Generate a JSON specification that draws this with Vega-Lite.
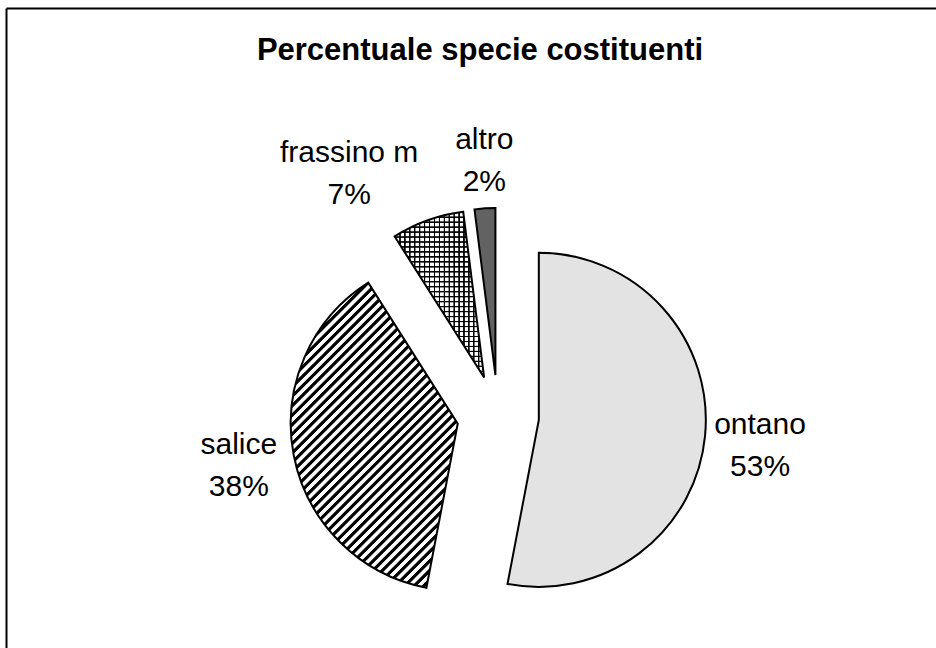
{
  "$schema": "https://vega.github.io/schema/vega-lite/v6.json",
  "width": 930,
  "height": 640,
  "autosize": {"type": "none"},
  "padding": {"left": 6, "top": 8, "right": 0, "bottom": 0},
  "background": "white",
  "config": {"view": {"stroke": null}},
  "title": {
    "text": "Percentuale specie costituenti",
    "font": "Liberation Sans",
    "fontSize": 31,
    "fontWeight": "bold",
    "color": "black",
    "anchor": "middle",
    "orient": "top",
    "offset": -59,
    "dx": 9
  },
  "data": {
    "values": [
      {"specie": "ontano", "pct": 53},
      {"specie": "salice", "pct": 38},
      {"specie": "frassino m", "pct": 7},
      {"specie": "altro", "pct": 2}
    ]
  },
  "transform": [
    {"window": [{"op": "sum", "field": "pct", "as": "t1"}], "frame": [null, 0]},
    {"calculate": "datum.t1 - datum.pct", "as": "t0"},
    {"calculate": "(datum.t0 + datum.t1) / 100 * PI", "as": "mid"},
    {"calculate": "sin(datum.mid)", "as": "s"},
    {"calculate": "cos(datum.mid)", "as": "c"},
    {"calculate": "41 * datum.s", "as": "ex"},
    {"calculate": "41 * datum.c", "as": "ey"},
    {"calculate": "218 * datum.s + (datum.s > 0.2 ? 1 : datum.s < -0.2 ? -1 : 0) * 7.5 * length(datum.specie)", "as": "lx"},
    {"calculate": "218 * datum.c + (abs(datum.s) > 0.5 ? 3 : 49)", "as": "ly"},
    {"calculate": "[datum.specie, datum.pct + '%']", "as": "label"}
  ],
  "layer": [
    {
      "encoding": {
        "x": {
          "field": "ex", "type": "quantitative",
          "scale": {"domain": [-492, 438], "nice": false, "zero": false},
          "axis": {"orient": "top", "domain": true, "domainColor": "black", "domainWidth": 2, "ticks": false, "labels": false, "grid": false, "title": null}
        },
        "y": {
          "field": "ey", "type": "quantitative",
          "scale": {"domain": [-232, 408], "nice": false, "zero": false},
          "axis": {"orient": "left", "domain": true, "domainColor": "black", "domainWidth": 2, "ticks": false, "labels": false, "grid": false, "title": null}
        },
        "theta": {"field": "t0", "type": "quantitative", "scale": {"domain": [0, 100]}, "stack": null},
        "theta2": {"field": "t1"}
      },
      "layer": [
        {
          "transform": [{"filter": "datum.specie === 'ontano'"}],
          "mark": {"type": "arc", "radius": 167, "fill": "#e3e3e3", "stroke": "#000", "strokeWidth": 2}
        },
        {
          "transform": [{"filter": "datum.specie === 'salice'"}],
          "mark": {
            "type": "arc", "radius": 167, "stroke": "#000", "strokeWidth": 2,
            "fill": {
              "gradient": "linear", "x1": 0, "y1": 0, "x2": 0.652, "y2": 1.191,
              "stops": [
                {"offset": 0, "color": "#000"}, {"offset": 0.0075, "color": "#000"}, {"offset": 0.0095, "color": "#fff"}, {"offset": 0.018, "color": "#fff"},
                {"offset": 0.02, "color": "#000"}, {"offset": 0.0275, "color": "#000"}, {"offset": 0.0295, "color": "#fff"}, {"offset": 0.038, "color": "#fff"},
                {"offset": 0.04, "color": "#000"}, {"offset": 0.0475, "color": "#000"}, {"offset": 0.0495, "color": "#fff"}, {"offset": 0.058, "color": "#fff"},
                {"offset": 0.06, "color": "#000"}, {"offset": 0.0675, "color": "#000"}, {"offset": 0.0695, "color": "#fff"}, {"offset": 0.078, "color": "#fff"},
                {"offset": 0.08, "color": "#000"}, {"offset": 0.0875, "color": "#000"}, {"offset": 0.0895, "color": "#fff"}, {"offset": 0.098, "color": "#fff"},
                {"offset": 0.1, "color": "#000"}, {"offset": 0.1075, "color": "#000"}, {"offset": 0.1095, "color": "#fff"}, {"offset": 0.118, "color": "#fff"},
                {"offset": 0.12, "color": "#000"}, {"offset": 0.1275, "color": "#000"}, {"offset": 0.1295, "color": "#fff"}, {"offset": 0.138, "color": "#fff"},
                {"offset": 0.14, "color": "#000"}, {"offset": 0.1475, "color": "#000"}, {"offset": 0.1495, "color": "#fff"}, {"offset": 0.158, "color": "#fff"},
                {"offset": 0.16, "color": "#000"}, {"offset": 0.1675, "color": "#000"}, {"offset": 0.1695, "color": "#fff"}, {"offset": 0.178, "color": "#fff"},
                {"offset": 0.18, "color": "#000"}, {"offset": 0.1875, "color": "#000"}, {"offset": 0.1895, "color": "#fff"}, {"offset": 0.198, "color": "#fff"},
                {"offset": 0.2, "color": "#000"}, {"offset": 0.2075, "color": "#000"}, {"offset": 0.2095, "color": "#fff"}, {"offset": 0.218, "color": "#fff"},
                {"offset": 0.22, "color": "#000"}, {"offset": 0.2275, "color": "#000"}, {"offset": 0.2295, "color": "#fff"}, {"offset": 0.238, "color": "#fff"},
                {"offset": 0.24, "color": "#000"}, {"offset": 0.2475, "color": "#000"}, {"offset": 0.2495, "color": "#fff"}, {"offset": 0.258, "color": "#fff"},
                {"offset": 0.26, "color": "#000"}, {"offset": 0.2675, "color": "#000"}, {"offset": 0.2695, "color": "#fff"}, {"offset": 0.278, "color": "#fff"},
                {"offset": 0.28, "color": "#000"}, {"offset": 0.2875, "color": "#000"}, {"offset": 0.2895, "color": "#fff"}, {"offset": 0.298, "color": "#fff"},
                {"offset": 0.3, "color": "#000"}, {"offset": 0.3075, "color": "#000"}, {"offset": 0.3095, "color": "#fff"}, {"offset": 0.318, "color": "#fff"},
                {"offset": 0.32, "color": "#000"}, {"offset": 0.3275, "color": "#000"}, {"offset": 0.3295, "color": "#fff"}, {"offset": 0.338, "color": "#fff"},
                {"offset": 0.34, "color": "#000"}, {"offset": 0.3475, "color": "#000"}, {"offset": 0.3495, "color": "#fff"}, {"offset": 0.358, "color": "#fff"},
                {"offset": 0.36, "color": "#000"}, {"offset": 0.3675, "color": "#000"}, {"offset": 0.3695, "color": "#fff"}, {"offset": 0.378, "color": "#fff"},
                {"offset": 0.38, "color": "#000"}, {"offset": 0.3875, "color": "#000"}, {"offset": 0.3895, "color": "#fff"}, {"offset": 0.398, "color": "#fff"},
                {"offset": 0.4, "color": "#000"}, {"offset": 0.4075, "color": "#000"}, {"offset": 0.4095, "color": "#fff"}, {"offset": 0.418, "color": "#fff"},
                {"offset": 0.42, "color": "#000"}, {"offset": 0.4275, "color": "#000"}, {"offset": 0.4295, "color": "#fff"}, {"offset": 0.438, "color": "#fff"},
                {"offset": 0.44, "color": "#000"}, {"offset": 0.4475, "color": "#000"}, {"offset": 0.4495, "color": "#fff"}, {"offset": 0.458, "color": "#fff"},
                {"offset": 0.46, "color": "#000"}, {"offset": 0.4675, "color": "#000"}, {"offset": 0.4695, "color": "#fff"}, {"offset": 0.478, "color": "#fff"},
                {"offset": 0.48, "color": "#000"}, {"offset": 0.4875, "color": "#000"}, {"offset": 0.4895, "color": "#fff"}, {"offset": 0.498, "color": "#fff"},
                {"offset": 0.5, "color": "#000"}, {"offset": 0.5075, "color": "#000"}, {"offset": 0.5095, "color": "#fff"}, {"offset": 0.518, "color": "#fff"},
                {"offset": 0.52, "color": "#000"}, {"offset": 0.5275, "color": "#000"}, {"offset": 0.5295, "color": "#fff"}, {"offset": 0.538, "color": "#fff"},
                {"offset": 0.54, "color": "#000"}, {"offset": 0.5475, "color": "#000"}, {"offset": 0.5495, "color": "#fff"}, {"offset": 0.558, "color": "#fff"},
                {"offset": 0.56, "color": "#000"}, {"offset": 0.5675, "color": "#000"}, {"offset": 0.5695, "color": "#fff"}, {"offset": 0.578, "color": "#fff"},
                {"offset": 0.58, "color": "#000"}, {"offset": 0.5875, "color": "#000"}, {"offset": 0.5895, "color": "#fff"}, {"offset": 0.598, "color": "#fff"},
                {"offset": 0.6, "color": "#000"}, {"offset": 0.6075, "color": "#000"}, {"offset": 0.6095, "color": "#fff"}, {"offset": 0.618, "color": "#fff"},
                {"offset": 0.62, "color": "#000"}, {"offset": 0.6275, "color": "#000"}, {"offset": 0.6295, "color": "#fff"}, {"offset": 0.638, "color": "#fff"},
                {"offset": 0.64, "color": "#000"}, {"offset": 0.6475, "color": "#000"}, {"offset": 0.6495, "color": "#fff"}, {"offset": 0.658, "color": "#fff"},
                {"offset": 0.66, "color": "#000"}, {"offset": 0.6675, "color": "#000"}, {"offset": 0.6695, "color": "#fff"}, {"offset": 0.678, "color": "#fff"},
                {"offset": 0.68, "color": "#000"}, {"offset": 0.6875, "color": "#000"}, {"offset": 0.6895, "color": "#fff"}, {"offset": 0.698, "color": "#fff"},
                {"offset": 0.7, "color": "#000"}, {"offset": 0.7075, "color": "#000"}, {"offset": 0.7095, "color": "#fff"}, {"offset": 0.718, "color": "#fff"},
                {"offset": 0.72, "color": "#000"}, {"offset": 0.7275, "color": "#000"}, {"offset": 0.7295, "color": "#fff"}, {"offset": 0.738, "color": "#fff"},
                {"offset": 0.74, "color": "#000"}, {"offset": 0.7475, "color": "#000"}, {"offset": 0.7495, "color": "#fff"}, {"offset": 0.758, "color": "#fff"},
                {"offset": 0.76, "color": "#000"}, {"offset": 0.7675, "color": "#000"}, {"offset": 0.7695, "color": "#fff"}, {"offset": 0.778, "color": "#fff"},
                {"offset": 0.78, "color": "#000"}, {"offset": 0.7875, "color": "#000"}, {"offset": 0.7895, "color": "#fff"}, {"offset": 0.798, "color": "#fff"},
                {"offset": 0.8, "color": "#000"}, {"offset": 0.8075, "color": "#000"}, {"offset": 0.8095, "color": "#fff"}, {"offset": 0.818, "color": "#fff"},
                {"offset": 0.82, "color": "#000"}, {"offset": 0.8275, "color": "#000"}, {"offset": 0.8295, "color": "#fff"}, {"offset": 0.838, "color": "#fff"},
                {"offset": 0.84, "color": "#000"}, {"offset": 0.8475, "color": "#000"}, {"offset": 0.8495, "color": "#fff"}, {"offset": 0.858, "color": "#fff"},
                {"offset": 0.86, "color": "#000"}, {"offset": 0.8675, "color": "#000"}, {"offset": 0.8695, "color": "#fff"}, {"offset": 0.878, "color": "#fff"},
                {"offset": 0.88, "color": "#000"}, {"offset": 0.8875, "color": "#000"}, {"offset": 0.8895, "color": "#fff"}, {"offset": 0.898, "color": "#fff"},
                {"offset": 0.9, "color": "#000"}, {"offset": 0.9075, "color": "#000"}, {"offset": 0.9095, "color": "#fff"}, {"offset": 0.918, "color": "#fff"},
                {"offset": 0.92, "color": "#000"}, {"offset": 0.9275, "color": "#000"}, {"offset": 0.9295, "color": "#fff"}, {"offset": 0.938, "color": "#fff"},
                {"offset": 0.94, "color": "#000"}, {"offset": 0.9475, "color": "#000"}, {"offset": 0.9495, "color": "#fff"}, {"offset": 0.958, "color": "#fff"},
                {"offset": 0.96, "color": "#000"}, {"offset": 0.9675, "color": "#000"}, {"offset": 0.9695, "color": "#fff"}, {"offset": 0.978, "color": "#fff"},
                {"offset": 0.98, "color": "#000"}, {"offset": 0.9875, "color": "#000"}, {"offset": 0.9895, "color": "#fff"}, {"offset": 1, "color": "#fff"}
              ]
            }
          }
        },
        {
          "transform": [{"filter": "datum.specie === 'frassino m'"}],
          "mark": {
            "type": "arc", "radius": 167,
            "fill": {
              "gradient": "linear", "x1": 0, "y1": 0, "x2": 1, "y2": 0,
              "stops": [
                {"offset": 0, "color": "#000"}, {"offset": 0.01, "color": "#000"}, {"offset": 0.016, "color": "#fff"}, {"offset": 0.05, "color": "#fff"},
                {"offset": 0.055, "color": "#000"}, {"offset": 0.065, "color": "#000"}, {"offset": 0.071, "color": "#fff"}, {"offset": 0.105, "color": "#fff"},
                {"offset": 0.11, "color": "#000"}, {"offset": 0.12, "color": "#000"}, {"offset": 0.126, "color": "#fff"}, {"offset": 0.16, "color": "#fff"},
                {"offset": 0.165, "color": "#000"}, {"offset": 0.175, "color": "#000"}, {"offset": 0.181, "color": "#fff"}, {"offset": 0.215, "color": "#fff"},
                {"offset": 0.22, "color": "#000"}, {"offset": 0.23, "color": "#000"}, {"offset": 0.236, "color": "#fff"}, {"offset": 0.27, "color": "#fff"},
                {"offset": 0.275, "color": "#000"}, {"offset": 0.285, "color": "#000"}, {"offset": 0.291, "color": "#fff"}, {"offset": 0.325, "color": "#fff"},
                {"offset": 0.33, "color": "#000"}, {"offset": 0.34, "color": "#000"}, {"offset": 0.346, "color": "#fff"}, {"offset": 0.38, "color": "#fff"},
                {"offset": 0.385, "color": "#000"}, {"offset": 0.395, "color": "#000"}, {"offset": 0.401, "color": "#fff"}, {"offset": 0.435, "color": "#fff"},
                {"offset": 0.44, "color": "#000"}, {"offset": 0.45, "color": "#000"}, {"offset": 0.456, "color": "#fff"}, {"offset": 0.49, "color": "#fff"},
                {"offset": 0.495, "color": "#000"}, {"offset": 0.505, "color": "#000"}, {"offset": 0.511, "color": "#fff"}, {"offset": 0.545, "color": "#fff"},
                {"offset": 0.55, "color": "#000"}, {"offset": 0.56, "color": "#000"}, {"offset": 0.566, "color": "#fff"}, {"offset": 0.6, "color": "#fff"},
                {"offset": 0.605, "color": "#000"}, {"offset": 0.615, "color": "#000"}, {"offset": 0.621, "color": "#fff"}, {"offset": 0.655, "color": "#fff"},
                {"offset": 0.66, "color": "#000"}, {"offset": 0.67, "color": "#000"}, {"offset": 0.676, "color": "#fff"}, {"offset": 0.71, "color": "#fff"},
                {"offset": 0.715, "color": "#000"}, {"offset": 0.725, "color": "#000"}, {"offset": 0.731, "color": "#fff"}, {"offset": 0.765, "color": "#fff"},
                {"offset": 0.77, "color": "#000"}, {"offset": 0.78, "color": "#000"}, {"offset": 0.786, "color": "#fff"}, {"offset": 0.82, "color": "#fff"},
                {"offset": 0.825, "color": "#000"}, {"offset": 0.835, "color": "#000"}, {"offset": 0.841, "color": "#fff"}, {"offset": 0.875, "color": "#fff"},
                {"offset": 0.88, "color": "#000"}, {"offset": 0.89, "color": "#000"}, {"offset": 0.896, "color": "#fff"}, {"offset": 0.93, "color": "#fff"},
                {"offset": 0.935, "color": "#000"}, {"offset": 0.945, "color": "#000"}, {"offset": 0.951, "color": "#fff"}, {"offset": 0.985, "color": "#fff"},
                {"offset": 0.99, "color": "#000"}, {"offset": 1, "color": "#000"}
              ]
            }
          }
        },
        {
          "transform": [{"filter": "datum.specie === 'frassino m'"}],
          "mark": {
            "type": "arc", "radius": 167, "stroke": "#000", "strokeWidth": 2,
            "fill": {
              "gradient": "linear", "x1": 0, "y1": 0, "x2": 0, "y2": 1,
              "stops": [
                {"offset": 0, "color": "#000"}, {"offset": 0.005, "color": "#000"}, {"offset": 0.009, "color": "rgba(0,0,0,0)"}, {"offset": 0.027, "color": "rgba(0,0,0,0)"},
                {"offset": 0.03, "color": "#000"}, {"offset": 0.035, "color": "#000"}, {"offset": 0.039, "color": "rgba(0,0,0,0)"}, {"offset": 0.057, "color": "rgba(0,0,0,0)"},
                {"offset": 0.06, "color": "#000"}, {"offset": 0.065, "color": "#000"}, {"offset": 0.069, "color": "rgba(0,0,0,0)"}, {"offset": 0.087, "color": "rgba(0,0,0,0)"},
                {"offset": 0.09, "color": "#000"}, {"offset": 0.095, "color": "#000"}, {"offset": 0.099, "color": "rgba(0,0,0,0)"}, {"offset": 0.117, "color": "rgba(0,0,0,0)"},
                {"offset": 0.12, "color": "#000"}, {"offset": 0.125, "color": "#000"}, {"offset": 0.129, "color": "rgba(0,0,0,0)"}, {"offset": 0.147, "color": "rgba(0,0,0,0)"},
                {"offset": 0.15, "color": "#000"}, {"offset": 0.155, "color": "#000"}, {"offset": 0.159, "color": "rgba(0,0,0,0)"}, {"offset": 0.177, "color": "rgba(0,0,0,0)"},
                {"offset": 0.18, "color": "#000"}, {"offset": 0.185, "color": "#000"}, {"offset": 0.189, "color": "rgba(0,0,0,0)"}, {"offset": 0.207, "color": "rgba(0,0,0,0)"},
                {"offset": 0.21, "color": "#000"}, {"offset": 0.215, "color": "#000"}, {"offset": 0.219, "color": "rgba(0,0,0,0)"}, {"offset": 0.237, "color": "rgba(0,0,0,0)"},
                {"offset": 0.24, "color": "#000"}, {"offset": 0.245, "color": "#000"}, {"offset": 0.249, "color": "rgba(0,0,0,0)"}, {"offset": 0.267, "color": "rgba(0,0,0,0)"},
                {"offset": 0.27, "color": "#000"}, {"offset": 0.275, "color": "#000"}, {"offset": 0.279, "color": "rgba(0,0,0,0)"}, {"offset": 0.297, "color": "rgba(0,0,0,0)"},
                {"offset": 0.3, "color": "#000"}, {"offset": 0.305, "color": "#000"}, {"offset": 0.309, "color": "rgba(0,0,0,0)"}, {"offset": 0.327, "color": "rgba(0,0,0,0)"},
                {"offset": 0.33, "color": "#000"}, {"offset": 0.335, "color": "#000"}, {"offset": 0.339, "color": "rgba(0,0,0,0)"}, {"offset": 0.357, "color": "rgba(0,0,0,0)"},
                {"offset": 0.36, "color": "#000"}, {"offset": 0.365, "color": "#000"}, {"offset": 0.369, "color": "rgba(0,0,0,0)"}, {"offset": 0.387, "color": "rgba(0,0,0,0)"},
                {"offset": 0.39, "color": "#000"}, {"offset": 0.395, "color": "#000"}, {"offset": 0.399, "color": "rgba(0,0,0,0)"}, {"offset": 0.417, "color": "rgba(0,0,0,0)"},
                {"offset": 0.42, "color": "#000"}, {"offset": 0.425, "color": "#000"}, {"offset": 0.429, "color": "rgba(0,0,0,0)"}, {"offset": 0.447, "color": "rgba(0,0,0,0)"},
                {"offset": 0.45, "color": "#000"}, {"offset": 0.455, "color": "#000"}, {"offset": 0.459, "color": "rgba(0,0,0,0)"}, {"offset": 0.477, "color": "rgba(0,0,0,0)"},
                {"offset": 0.48, "color": "#000"}, {"offset": 0.485, "color": "#000"}, {"offset": 0.489, "color": "rgba(0,0,0,0)"}, {"offset": 0.507, "color": "rgba(0,0,0,0)"},
                {"offset": 0.51, "color": "#000"}, {"offset": 0.515, "color": "#000"}, {"offset": 0.519, "color": "rgba(0,0,0,0)"}, {"offset": 0.537, "color": "rgba(0,0,0,0)"},
                {"offset": 0.54, "color": "#000"}, {"offset": 0.545, "color": "#000"}, {"offset": 0.549, "color": "rgba(0,0,0,0)"}, {"offset": 0.567, "color": "rgba(0,0,0,0)"},
                {"offset": 0.57, "color": "#000"}, {"offset": 0.575, "color": "#000"}, {"offset": 0.579, "color": "rgba(0,0,0,0)"}, {"offset": 0.597, "color": "rgba(0,0,0,0)"},
                {"offset": 0.6, "color": "#000"}, {"offset": 0.605, "color": "#000"}, {"offset": 0.609, "color": "rgba(0,0,0,0)"}, {"offset": 0.627, "color": "rgba(0,0,0,0)"},
                {"offset": 0.63, "color": "#000"}, {"offset": 0.635, "color": "#000"}, {"offset": 0.639, "color": "rgba(0,0,0,0)"}, {"offset": 0.657, "color": "rgba(0,0,0,0)"},
                {"offset": 0.66, "color": "#000"}, {"offset": 0.665, "color": "#000"}, {"offset": 0.669, "color": "rgba(0,0,0,0)"}, {"offset": 0.687, "color": "rgba(0,0,0,0)"},
                {"offset": 0.69, "color": "#000"}, {"offset": 0.695, "color": "#000"}, {"offset": 0.699, "color": "rgba(0,0,0,0)"}, {"offset": 0.717, "color": "rgba(0,0,0,0)"},
                {"offset": 0.72, "color": "#000"}, {"offset": 0.725, "color": "#000"}, {"offset": 0.729, "color": "rgba(0,0,0,0)"}, {"offset": 0.747, "color": "rgba(0,0,0,0)"},
                {"offset": 0.75, "color": "#000"}, {"offset": 0.755, "color": "#000"}, {"offset": 0.759, "color": "rgba(0,0,0,0)"}, {"offset": 0.777, "color": "rgba(0,0,0,0)"},
                {"offset": 0.78, "color": "#000"}, {"offset": 0.785, "color": "#000"}, {"offset": 0.789, "color": "rgba(0,0,0,0)"}, {"offset": 0.807, "color": "rgba(0,0,0,0)"},
                {"offset": 0.81, "color": "#000"}, {"offset": 0.815, "color": "#000"}, {"offset": 0.819, "color": "rgba(0,0,0,0)"}, {"offset": 0.837, "color": "rgba(0,0,0,0)"},
                {"offset": 0.84, "color": "#000"}, {"offset": 0.845, "color": "#000"}, {"offset": 0.849, "color": "rgba(0,0,0,0)"}, {"offset": 0.867, "color": "rgba(0,0,0,0)"},
                {"offset": 0.87, "color": "#000"}, {"offset": 0.875, "color": "#000"}, {"offset": 0.879, "color": "rgba(0,0,0,0)"}, {"offset": 0.897, "color": "rgba(0,0,0,0)"},
                {"offset": 0.9, "color": "#000"}, {"offset": 0.905, "color": "#000"}, {"offset": 0.909, "color": "rgba(0,0,0,0)"}, {"offset": 0.927, "color": "rgba(0,0,0,0)"},
                {"offset": 0.93, "color": "#000"}, {"offset": 0.935, "color": "#000"}, {"offset": 0.939, "color": "rgba(0,0,0,0)"}, {"offset": 0.957, "color": "rgba(0,0,0,0)"},
                {"offset": 0.96, "color": "#000"}, {"offset": 0.965, "color": "#000"}, {"offset": 0.969, "color": "rgba(0,0,0,0)"}, {"offset": 0.987, "color": "rgba(0,0,0,0)"},
                {"offset": 0.99, "color": "#000"}, {"offset": 1, "color": "#000"}
              ]
            }
          }
        },
        {
          "transform": [{"filter": "datum.specie === 'altro'"}],
          "mark": {"type": "arc", "radius": 167, "fill": "#626262", "stroke": "#000", "strokeWidth": 2}
        }
      ]
    },
    {
      "mark": {
        "type": "text",
        "font": "Liberation Sans",
        "fontSize": 30,
        "lineHeight": 42,
        "color": "black",
        "align": "center",
        "baseline": "alphabetic"
      },
      "encoding": {
        "x": {"field": "lx", "type": "quantitative", "scale": {"domain": [-492, 438], "nice": false, "zero": false}},
        "y": {"field": "ly", "type": "quantitative", "scale": {"domain": [-232, 408], "nice": false, "zero": false}},
        "text": {"field": "label"}
      }
    }
  ]
}
